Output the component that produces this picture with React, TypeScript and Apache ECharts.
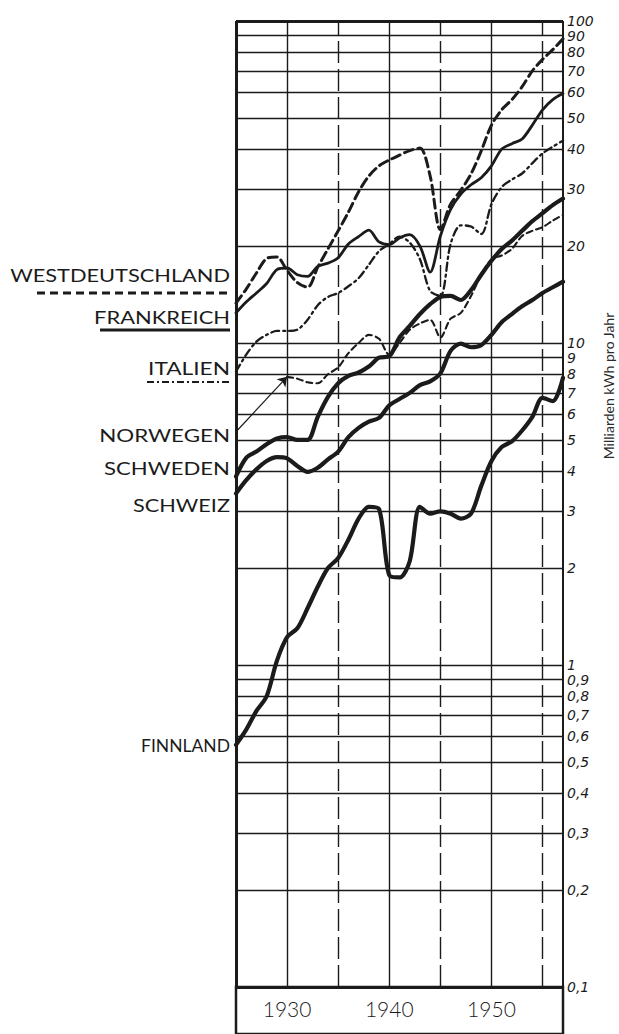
import React, { useEffect, useRef } from "react";
import * as echarts from "echarts";

// ---------- data (Milliarden kWh pro Jahr) ----------
const YEARS = [
  1925, 1926, 1927, 1928, 1929, 1930, 1931, 1932, 1933, 1934,
  1935, 1936, 1937, 1938, 1939, 1940, 1941, 1942, 1943, 1944,
  1945, 1946, 1947, 1948, 1949, 1950, 1951, 1952, 1953, 1954,
  1955, 1956, 1957,
];
const WESTDEUTSCHLAND = [
  13.3, 14.7, 16.5, 18.3, 18.5, 16.8, 15.4, 14.9, 17.2, 19.6,
  22.3, 25.5, 29.5, 33.0, 35.5, 37.0, 38.3, 39.6, 40.3, 33.0,
  22.5, 27.0, 29.8, 33.5, 39.5, 47.5, 53.0, 57.0, 62.5, 70.0,
  76.0, 81.5, 88.0,
];
const FRANKREICH = [
  12.4, 13.4, 14.3, 15.3, 16.9, 17.1, 16.3, 16.1, 17.3, 17.7,
  18.4, 20.3, 21.4, 22.4, 20.6, 20.2, 21.2, 21.7, 20.0, 16.6,
  21.5, 26.0, 29.0, 31.0, 32.6, 35.5, 40.0, 41.6, 43.0, 47.5,
  53.0, 57.0, 59.5,
];
const ITALIEN = [
  8.15, 9.2, 10.1, 10.6, 10.9, 10.9, 11.0, 11.8, 13.1, 13.9,
  14.3, 15.0, 15.9, 17.5, 19.3, 20.3, 21.4, 20.5, 18.2, 14.5,
  14.0, 20.3, 23.2, 23.0, 21.8, 27.0, 30.5, 32.2, 33.6, 36.2,
  38.8, 40.7, 42.5,
];
const NORWEGEN = [
  null, null, null, null, null, 7.85, 7.75, 7.55, 7.5, 8.0,
  8.4, 9.3, 10.0, 10.6, 10.3, 9.2, 10.0, 11.0, 11.5, 11.8,
  10.4, 11.9, 12.4, 14.0, 16.3, 18.2, 18.7, 19.6, 21.5, 22.3,
  22.9, 24.0, 25.0,
];
const SCHWEDEN = [
  3.85, 4.4, 4.6, 4.85, 5.05, 5.1, 5.0, 5.0, 5.9, 6.8,
  7.5, 7.9, 8.1, 8.45, 9.0, 9.1, 10.4, 11.3, 12.3, 13.2,
  13.9, 14.0, 13.6, 14.6, 16.3, 18.0, 19.6, 20.8, 22.3, 23.9,
  25.3, 26.8, 28.1,
];
const SCHWEIZ = [
  3.41, 3.75, 4.05, 4.3, 4.42, 4.38, 4.15, 3.98, 4.1, 4.35,
  4.6, 5.1, 5.45, 5.7, 5.85, 6.4, 6.7, 7.0, 7.4, 7.6,
  8.05, 9.45, 9.95, 9.7, 9.85, 10.6, 11.6, 12.3, 13.0, 13.6,
  14.3, 14.9, 15.5,
];
const FINNLAND = [
  0.565, 0.63, 0.72, 0.8, 1.03, 1.22, 1.3, 1.5, 1.75, 2.0,
  2.15, 2.45, 2.85, 3.1, 3.05, 1.9, 1.87, 2.1, 3.1, 2.95,
  3.0, 2.95, 2.85, 2.95, 3.6, 4.3, 4.75, 4.95, 5.35, 5.9,
  6.75, 6.6, 7.8,
];
// Norwegen pointer: from label level (1925) to first value (1930)
const NORWEGEN_POINTER = [[1925, 5.3], [1930, 7.85]];

// ---------- axes ----------
const Y_GRID = [100, 90, 80, 70, 60, 50, 40, 30, 20, 10, 9, 8, 7, 6, 5, 4, 3, 2, 1, 0.9, 0.8, 0.7, 0.6, 0.5, 0.4, 0.3, 0.2, 0.1];
const Y_LABELS = ["100", "90", "80", "70", "60", "50", "40", "30", "20", "10", "9", "8", "7", "6", "5", "4", "3", "2", "1", "0,9", "0,8", "0,7", "0,6", "0,5", "0,4", "0,3", "0,2", "0,1"];
const Y_DECADE_TOPS = [100, 10, 1];
const X_MIN = 1925;
const X_MAX = 1957;
const X_DECADES = [1930, 1940, 1950];
const X_HALF_DECADES = [1935, 1945, 1955];

const INK = "#1b1b1b";

const LEFT_LABELS = [
  { text: "WESTDEUTSCHLAND", y: 275, w: 220 },
  { text: "FRANKREICH", y: 317, w: 136 },
  { text: "ITALIEN", y: 368, w: 82 },
  { text: "NORWEGEN", y: 435, w: 131 },
  { text: "SCHWEDEN", y: 468, w: 126 },
  { text: "SCHWEIZ", y: 505, w: 97 },
  { text: "FINNLAND", y: 745, w: 89 },
];
const LABEL_FONT = '400 18px Lato';

function measure(text: string, font: string): number {
  const ctx = document.createElement("canvas").getContext("2d");
  if (!ctx) return text.length * 10;
  ctx.font = font;
  return ctx.measureText(text).width;
}

const pairs = (vals: (number | null)[]) => YEARS.map((y, i) => [y, vals[i]]);

export default function App() {
  const ref = useRef<HTMLDivElement>(null);

  useEffect(() => {
    document.body.style.margin = "0";
    if (!ref.current) return;
    const chart = echarts.init(ref.current, undefined, { renderer: "svg" });

    const hLines = Y_GRID.map((v, i) => ({
      yAxis: v,
      lineStyle: { color: INK, width: v === 100 || v === 0.1 ? 3 : 1.4, type: "solid" },
      label: {
        show: true,
        position: "end",
        distance: 4,
        formatter: Y_LABELS[i],
        color: INK,
        fontStyle: "italic",
        fontSize: 14,
        fontFamily: '"DejaVu Sans"',
        padding: Y_DECADE_TOPS.includes(v) ? [0, 0, 9, 0] : 0,
      },
    }));
    const vLines = [
      ...X_DECADES.map((x) => ({ xAxis: x, lineStyle: { color: INK, width: 1.4, type: "solid" } })),
      ...X_HALF_DECADES.map((x) => ({ xAxis: x, lineStyle: { color: INK, width: 1.4, type: [22, 6] } })),
      { xAxis: X_MIN, lineStyle: { color: INK, width: 3, type: "solid" } },
      { xAxis: X_MAX, lineStyle: { color: INK, width: 2, type: "solid" } },
    ].map((d) => ({ ...d, label: { show: false } }));

    const lineSeries = (name: string, vals: (number | null)[], width: number, type: any) => ({
      name,
      type: "line",
      data: pairs(vals),
      smooth: 0.3,
      symbol: "none",
      z: 3,
      lineStyle: { color: INK, width, type, cap: "round", join: "round" },
    });

    const graphics: any[] = LEFT_LABELS.map((l) => {
      const w = measure(l.text, LABEL_FONT);
      return {
        type: "text",
        x: 230,
        y: l.y,
        scaleX: l.w / w,
        style: { text: l.text, x: 0, y: 0, align: "right", verticalAlign: "middle", font: LABEL_FONT, fill: INK },
      };
    });
    graphics.push(
      { type: "line", shape: { x1: 37, y1: 293, x2: 228, y2: 293 }, style: { stroke: INK, lineWidth: 2.8, lineDash: [8, 5] } },
      { type: "line", shape: { x1: 100, y1: 330, x2: 230, y2: 330 }, style: { stroke: INK, lineWidth: 2.8 } },
      { type: "line", shape: { x1: 147, y1: 382, x2: 232, y2: 382 }, style: { stroke: INK, lineWidth: 2.2, lineDash: [7, 3, 2, 3] } },
      {
        type: "text",
        x: 608,
        y: 386,
        rotation: Math.PI / 2,
        style: { text: "Milliarden kWh pro Jahr", align: "center", verticalAlign: "middle", font: '14px Lato', fill: "#2a2a2a" },
      }
    );

    chart.setOption({
      animation: false,
      backgroundColor: "#ffffff",
      grid: [
        { left: 236, right: 56, top: 21, bottom: 47 },
        { left: 236, right: 56, top: 987, bottom: -4, show: true, borderColor: INK, borderWidth: 2.5, backgroundColor: "transparent" },
      ],
      xAxis: [
        {
          type: "value",
          gridIndex: 0,
          min: X_MIN,
          max: X_MAX,
          interval: 5,
          axisLine: { show: false },
          axisTick: { show: false },
          splitLine: { show: false },
          axisLabel: {
            margin: 11,
            fontSize: 21,
            fontWeight: 300,
            color: INK,
            fontFamily: "Lato",
            formatter: (v: number) => (X_DECADES.includes(v) ? String(v) : ""),
          },
        },
        { type: "value", gridIndex: 1, show: false, min: X_MIN, max: X_MAX },
      ],
      yAxis: [
        { type: "log", logBase: 10, min: 0.1, max: 100, gridIndex: 0, show: false },
        { type: "value", gridIndex: 1, show: false },
      ],
      graphic: graphics,
      series: [
        {
          name: "grid",
          type: "line",
          data: [],
          z: 1,
          markLine: { silent: true, symbol: "none", z: 1, animation: false, data: [...hLines, ...vLines] },
        },
        lineSeries("Westdeutschland", WESTDEUTSCHLAND, 3, [9, 5]),
        lineSeries("Frankreich", FRANKREICH, 2.8, "solid"),
        lineSeries("Italien", ITALIEN, 2.3, [8, 4, 2, 4]),
        {
          ...lineSeries("Norwegen", NORWEGEN, 2.1, [6, 4]),
          markLine: {
            silent: true,
            symbol: ["none", "arrow"],
            symbolSize: 9,
            animation: false,
            label: { show: false },
            lineStyle: { color: INK, width: 1.2, type: "solid" },
            data: [[{ coord: NORWEGEN_POINTER[0] }, { coord: NORWEGEN_POINTER[1] }]],
          },
        },
        lineSeries("Schweden", SCHWEDEN, 4.2, "solid"),
        lineSeries("Schweiz", SCHWEIZ, 4.2, "solid"),
        lineSeries("Finnland", FINNLAND, 4.2, "solid"),
      ],
    });

    return () => chart.dispose();
  }, []);

  return <div ref={ref} style={{ width: 619, height: 1034 }} />;
}
